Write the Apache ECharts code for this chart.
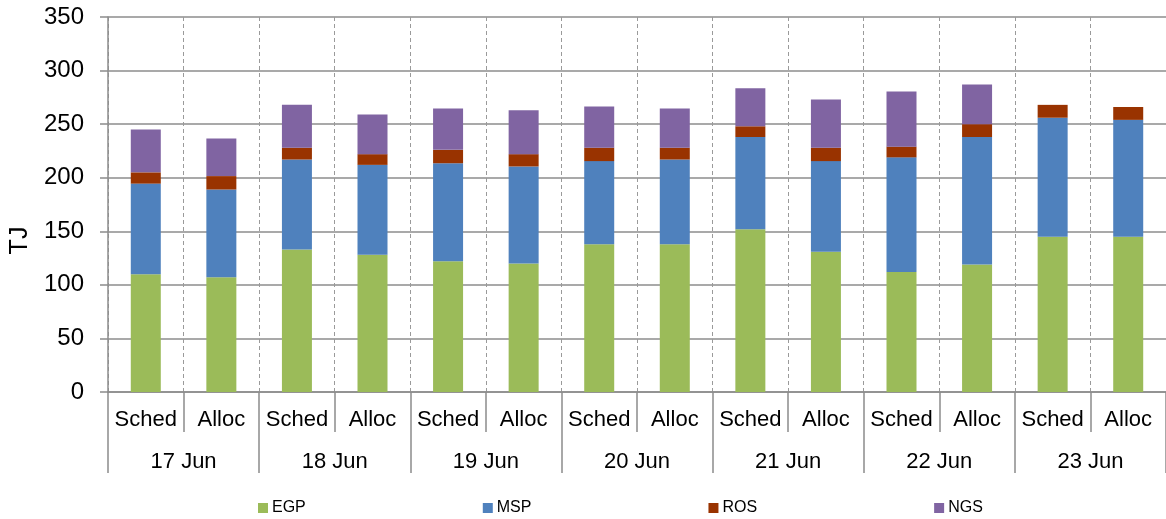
<!DOCTYPE html>
<html>
<head>
<meta charset="utf-8">
<script src="https://cdn.jsdelivr.net/npm/echarts@6/dist/echarts.min.js"></script>
<style>
  html, body { margin: 0; padding: 0; background: #ffffff; }
  #chart { width: 1166px; height: 519px; }
</style>
</head>
<body>
<div id="chart"></div>
<script>
// Daily gas volumes (TJ), scheduled vs allocated, by source
const days = ['17 Jun', '18 Jun', '19 Jun', '20 Jun', '21 Jun', '22 Jun', '23 Jun'];
const kinds = ['Sched', 'Alloc'];
const categories = days.flatMap(() => kinds);

const egp = [110, 107, 133, 128, 122, 120, 138, 138, 152, 131, 112, 119, 145, 145];
const msp = [84.5, 82, 84, 84, 91.5, 90.5, 77.5, 79, 86, 84.5, 107, 119, 111, 109];
const ros = [10.5, 12.5, 11, 10, 12.5, 11.5, 12.5, 11, 10, 12.5, 10, 12, 12, 12];
const ngs = [40, 35, 40, 37, 38.5, 41, 38.5, 36.5, 35.5, 45, 51.5, 37, 0, 0];

const yTicks = { min: 0, max: 350, step: 50 };

const FONT = '"Liberation Sans", Arial, sans-serif';
const GRID_GRAY = '#8c8c8c';

const chart = echarts.init(document.getElementById('chart'), null, { renderer: 'canvas' });

function bar(name, data, color) {
  return {
    name: name,
    type: 'bar',
    stack: 'total',
    xAxisIndex: 0,
    barWidth: 30,
    data: data,
    itemStyle: { color: color },
    emphasis: { disabled: true }
  };
}

chart.setOption({
  animation: false,
  textStyle: { fontFamily: FONT },
  grid: { left: 107, right: -2, top: 17, bottom: 127, containLabel: false },
  legend: {
    data: ['EGP', 'MSP', 'ROS', 'NGS'],
    left: 258,
    top: 500,
    padding: 0,
    itemWidth: 10,
    itemHeight: 10,
    itemGap: 177,
    icon: 'rect',
    textStyle: { fontSize: 16, color: '#000', fontFamily: FONT, padding: [0, 0, 0, -1] }
  },
  xAxis: [
    {
      type: 'category',
      data: categories,
      position: 'bottom',
      axisLine: { show: true, lineStyle: { color: GRID_GRAY, width: 1.5 } },
      axisTick: { show: true, interval: 0, length: 40, lineStyle: { color: GRID_GRAY, width: 1.5 } },
      axisLabel: { interval: 0, fontSize: 22, color: '#000', margin: 17, fontFamily: FONT },
      splitLine: { show: true, interval: 0, lineStyle: { color: '#9a9a9a', type: [4, 3], width: 1 } }
    },
    {
      type: 'category',
      data: days,
      position: 'bottom',
      axisLine: { show: false },
      axisTick: { show: true, interval: 0, length: 81, lineStyle: { color: GRID_GRAY, width: 1.5 } },
      axisLabel: { interval: 0, fontSize: 22, color: '#000', margin: 59, fontFamily: FONT },
      splitLine: { show: false }
    }
  ],
  yAxis: {
    type: 'value',
    min: yTicks.min,
    max: yTicks.max,
    interval: yTicks.step,
    name: 'TJ',
    nameLocation: 'middle',
    nameGap: 75,
    nameRotate: 90,
    nameTextStyle: { fontSize: 25, color: '#000', fontFamily: FONT, padding: [0, 72, 0, 0] },
    axisLine: { show: true, lineStyle: { color: GRID_GRAY, width: 1.5 } },
    axisTick: { show: true, length: 8, lineStyle: { color: GRID_GRAY, width: 1.5 } },
    axisLabel: { fontSize: 24, color: '#000', margin: 24, fontFamily: FONT },
    splitLine: { show: true, lineStyle: { color: GRID_GRAY, width: 1.5 } }
  },
  series: [
    bar('EGP', egp, '#9bbb59'),
    bar('MSP', msp, '#4f81bd'),
    bar('ROS', ros, '#993300'),
    bar('NGS', ngs, '#8064a2')
  ]
});
</script>
</body>
</html>
